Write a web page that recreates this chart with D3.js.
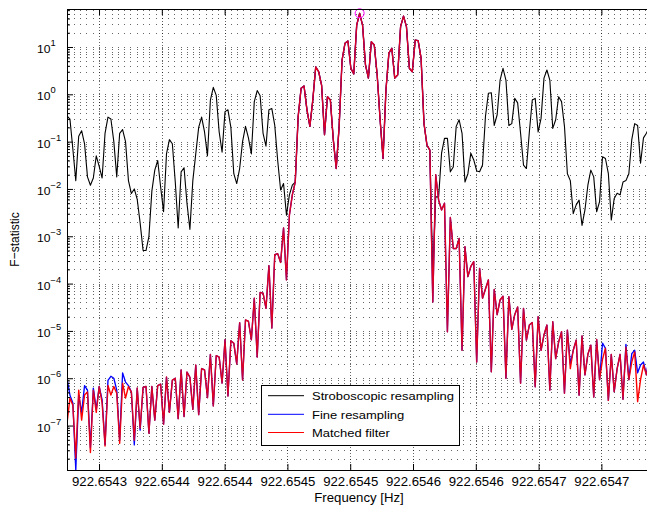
<!DOCTYPE html>
<html>
<head>
<meta charset="utf-8">
<script src="https://cdn.jsdelivr.net/npm/d3@7"></script>
<style>
  body { margin: 0; background: #fff; }
  svg { display: block; font-family: "Liberation Sans", Arial, Helvetica, sans-serif; }
</style>
</head>
<body>
<svg id="chart" width="647" height="508"></svg>
<script>
// frequency grid of the scan (first bin + bin width, Hz)
const freqStart = 922.6542745;
const freqStep = 2.33e-6;

// F-statistic, one value per frequency bin
const stroboscopic = [
  0.35, 0.3, 0.07, 0.015, 0.13, 0.17, 0.09, 0.018, 0.012, 0.017,
  0.05, 0.03, 0.017, 0.15, 0.33, 0.3, 0.1, 0.018, 0.15, 0.18,
  0.1, 0.015, 0.008, 0.01, 0.006, 0.0019, 0.0005, 0.0005, 0.001, 0.009,
  0.025, 0.04, 0.011, 0.0033, 0.055, 0.11, 0.09, 0.014, 0.0015, 0.023,
  0.028, 0.005, 0.0014, 0.015, 0.055, 0.2, 0.33, 0.16, 0.05, 0.75,
  1.4, 0.95, 0.16, 0.06, 0.43, 0.47, 0.2, 0.021, 0.013, 0.027,
  0.1, 0.21, 0.12, 0.055, 0.7, 1.2, 0.93, 0.15, 0.08, 0.47,
  0.5, 0.22, 0.04, 0.0095, 0.013, 0.0028, 0.0075, 0.012, 0.014, 0.34,
  1.34, 1.5, 0.47, 0.21, 0.76, 3.8, 3.0, 1.57, 0.14, 0.89,
  0.76, 0.11, 0.027, 0.21, 5.3, 12, 13.4, 3.55, 2.7, 29,
  51.5, 29, 4.2, 2.2, 12.9, 11, 2.56, 0.29, 0.044, 1.23,
  7.4, 9.4, 2.2, 2.56, 27, 45, 27, 3.55, 3.0, 14,
  13.6, 5.8, 0.24, 0.085, 0.066, 0.00015, 0.0068, 0.0068, 0.057, 0.117,
  0.117, 0.023, 0.029, 0.21, 0.29, 0.15, 0.014, 0.021, 0.057, 0.041,
  0.024, 0.023, 0.032, 0.34, 1.05, 1.08, 0.22, 0.37, 2.0, 3.55,
  2.0, 0.22, 0.24, 0.82, 0.66, 0.15, 0.032, 0.027, 0.16, 0.76,
  0.82, 0.16, 0.31, 2.2, 3.26, 2.0, 0.19, 0.29, 0.89, 0.7,
  0.21, 0.021, 0.015, 0.003, 0.0046, 0.0058, 0.0017, 0.0036, 0.012, 0.025,
  0.018, 0.0033, 0.0054, 0.048, 0.044, 0.021, 0.0022, 0.0063, 0.0081, 0.0075,
  0.014, 0.015, 0.021, 0.11, 0.24, 0.22, 0.035, 0.12, 0.15, 0.2
];

const fineResampling = [
  1e-6, 4.4e-7, 3e-7, 1.15e-8, 4.4e-7, 1.9e-7, 7e-7, 5.6e-7, 3.4e-8, 6.2e-7,
  2.2e-7, 6.7e-7, 3.5e-7, 3.9e-8, 9e-7, 1.1e-6, 1e-6, 5.6e-7, 4.9e-8, 1.3e-6,
  8.3e-7, 7e-7, 5.1e-7, 3.9e-8, 6.2e-7, 8e-8, 6.4e-7, 6.7e-7, 6.9e-8, 6.7e-7,
  1.3e-7, 7e-7, 7.5e-7, 1.07e-7, 1.06e-6, 1.9e-7, 9.1e-7, 1e-6, 1.4e-7, 1.5e-6,
  1.55e-7, 1.35e-6, 1.05e-6, 2.2e-7, 1.9e-6, 1.7e-7, 1.6e-6, 1.5e-6, 3.9e-7, 3.2e-6,
  2.6e-7, 3e-6, 2.8e-6, 7.9e-7, 6.5e-6, 4.2e-7, 6.2e-6, 5.5e-6, 2e-6, 1.5e-5,
  9.2e-7, 1.7e-5, 1.6e-5, 6.5e-6, 4.9e-5, 2.8e-6, 6.5e-5, 6.3e-5, 3e-5, 2.4e-4,
  1.15e-5, 4.1e-4, 4.3e-4, 2.8e-4, 1.5e-3, 1.2e-4, 2.8e-3, 7.5e-3, 0.014, 0.34,
  1.34, 1.5, 0.47, 0.21, 0.76, 3.8, 3.0, 1.57, 0.14, 0.89,
  0.76, 0.11, 0.027, 0.21, 5.3, 12, 13.4, 3.55, 2.7, 29,
  51.5, 29, 4.2, 2.2, 12.9, 11, 2.56, 0.29, 0.044, 1.23,
  7.4, 9.4, 2.2, 2.56, 27, 45, 27, 3.55, 3.0, 14,
  13.6, 5.8, 0.24, 0.085, 0.066, 4.1e-5, 0.02, 0.0058, 0.0036, 0.005,
  9.6e-6, 0.0025, 5.5e-4, 5.5e-4, 9e-4, 3.9e-6, 6e-4, 1.4e-4, 2.3e-4, 2.9e-4,
  2.2e-6, 2.1e-4, 4.9e-5, 7.7e-5, 1.2e-4, 1.37e-6, 7.5e-5, 2.2e-5, 4.5e-5, 5.4e-5,
  1e-6, 5.3e-5, 1.08e-5, 2.2e-5, 3.2e-5, 7.8e-7, 3e-5, 6.4e-6, 1.33e-5, 1.5e-5,
  6.6e-7, 2e-5, 3.9e-6, 8.2e-6, 1.33e-5, 5.6e-7, 1.56e-5, 2.6e-6, 5.8e-6, 9.6e-6,
  4.8e-7, 1.04e-5, 2e-6, 3.9e-6, 6.4e-6, 4.4e-7, 7.8e-6, 1.18e-6, 3.2e-6, 5e-6,
  4e-7, 6.6e-6, 9.3e-7, 5.5e-6, 4.3e-6, 3.4e-7, 3.2e-6, 5.2e-7, 1.6e-6, 3.2e-6,
  3.6e-7, 5.2e-6, 9.3e-7, 3.3e-6, 3.9e-6, 1.3e-6, 1.9e-6, 2.2e-6, 1.18e-6, 3e-6
];

const matchedFilter = [
  1.1e-7, 3.8e-7, 2.7e-7, 2.05e-8, 5.6e-7, 1.3e-7, 4.4e-7, 5.1e-7, 2.7e-8, 5.6e-7,
  1.9e-7, 6.7e-7, 3e-7, 3.7e-8, 7e-7, 4.4e-7, 6.7e-7, 4.8e-7, 4.2e-8, 7.9e-7,
  3.8e-7, 6.7e-7, 5.1e-7, 4.9e-8, 6.2e-7, 8.8e-8, 6.4e-7, 6.7e-7, 6.9e-8, 6.7e-7,
  1.3e-7, 7e-7, 7.5e-7, 1.07e-7, 1.06e-6, 1.9e-7, 9.1e-7, 1e-6, 1.4e-7, 1.5e-6,
  1.55e-7, 1.35e-6, 1.05e-6, 2.2e-7, 1.9e-6, 1.7e-7, 1.6e-6, 1.5e-6, 3.9e-7, 3.2e-6,
  2.6e-7, 3e-6, 2.8e-6, 7.9e-7, 6.5e-6, 4.2e-7, 6.2e-6, 5.5e-6, 2e-6, 1.5e-5,
  9.2e-7, 1.7e-5, 1.6e-5, 6.5e-6, 4.9e-5, 2.8e-6, 6.5e-5, 6.3e-5, 3e-5, 2.4e-4,
  1.15e-5, 4.1e-4, 4.3e-4, 2.8e-4, 1.5e-3, 1.2e-4, 2.8e-3, 7.5e-3, 0.014, 0.34,
  1.34, 1.5, 0.47, 0.21, 0.76, 3.8, 3.0, 1.57, 0.14, 0.89,
  0.76, 0.11, 0.027, 0.21, 5.3, 12, 13.4, 3.55, 2.7, 29,
  51.5, 29, 4.2, 2.2, 12.9, 11, 2.56, 0.29, 0.044, 1.23,
  7.4, 9.4, 2.2, 2.56, 27, 45, 27, 3.55, 3.0, 14,
  13.6, 5.8, 0.24, 0.085, 0.066, 4.1e-5, 0.02, 0.0058, 0.0036, 0.005,
  9.6e-6, 0.0025, 5.5e-4, 5.5e-4, 9e-4, 3.9e-6, 6e-4, 1.4e-4, 2.3e-4, 2.9e-4,
  2.2e-6, 2.1e-4, 4.9e-5, 7.7e-5, 1.2e-4, 1.37e-6, 7.5e-5, 2.2e-5, 4.5e-5, 5.4e-5,
  1e-6, 5.3e-5, 1.08e-5, 2.2e-5, 3.2e-5, 7.8e-7, 3e-5, 6.4e-6, 1.33e-5, 1.5e-5,
  6.6e-7, 2e-5, 3.9e-6, 8.2e-6, 1.33e-5, 5.6e-7, 1.56e-5, 2.6e-6, 5.8e-6, 9.6e-6,
  4.8e-7, 1.04e-5, 1.6e-6, 3.9e-6, 6.4e-6, 4.4e-7, 7.8e-6, 1.18e-6, 3.2e-6, 5e-6,
  4e-7, 6.6e-6, 9.3e-7, 2.5e-6, 4.3e-6, 3.4e-7, 3.2e-6, 5.2e-7, 1.6e-6, 3.2e-6,
  3.6e-7, 4.5e-6, 9.3e-7, 2.2e-6, 3.6e-6, 3.2e-7, 9.3e-7, 1.9e-6, 1.18e-6, 2.5e-6
];

const seriesNames = ['Stroboscopic resampling', 'Fine resampling', 'Matched filter'];

const xTickValues = [922.6543, 922.65435, 922.6544, 922.65445, 922.6545,
                     922.65455, 922.6546, 922.65465, 922.6547];
const xTickLabels = ['922.6543', '922.6544', '922.6544', '922.6545', '922.6545',
                     '922.6546', '922.6546', '922.6547', '922.6547'];
const yDecades = [1e-7, 1e-6, 1e-5, 1e-4, 1e-3, 1e-2, 1e-1, 1e0, 1e1];
const yExponents = ['\u22127', '\u22126', '\u22125', '\u22124', '\u22123', '\u22122', '\u22121', '0', '1'];

const freqs = d3.range(stroboscopic.length).map(i => freqStart + i * freqStep);

const svg = d3.select('#chart');
const pLeft = 67, pTop = 9, pRight = 651, pBottom = 470;
const stretch = 'scale(1.1,1)';

const x = d3.scaleLinear().domain([922.6542745, 922.6547395]).range([pLeft, pRight]);
const y = d3.scaleLog().domain([1.15e-8, 63.5]).range([pBottom, pTop]);

svg.append('defs').append('clipPath').attr('id', 'plot-clip')
  .append('rect').attr('x', pLeft).attr('y', pTop)
  .attr('width', pRight - pLeft).attr('height', pBottom - pTop);

// grid: every decade and its 2..9 subdivisions, MATLAB-style dotted
const gridVals = [];
[1e-8].concat(yDecades).forEach(d => {
  d3.range(1, 10).forEach(m => {
    const v = d * m;
    if (v > y.domain()[0] && v < y.domain()[1]) gridVals.push(v);
  });
});
const grid = svg.append('g').attr('stroke', '#000').attr('stroke-opacity', 0.6)
  .attr('shape-rendering', 'crispEdges');
grid.selectAll('line.h').data(gridVals).enter().append('line')
  .attr('class', 'h')
  .attr('x1', pLeft + 0.6).attr('x2', pRight)
  .attr('y1', d => Math.round(y(d)) + 0.5).attr('y2', d => Math.round(y(d)) + 0.5)
  .attr('stroke-dasharray', '1,5.28');
grid.selectAll('line.v').data(xTickValues).enter().append('line')
  .attr('class', 'v')
  .attr('x1', d => Math.round(x(d)) + 0.5).attr('x2', d => Math.round(x(d)) + 0.5)
  .attr('y1', pTop).attr('y2', pBottom)
  .attr('stroke-dasharray', '1,2');

// curves
const line = d3.line().x((d, i) => x(freqs[i])).y(d => y(d));
const plot = svg.append('g').attr('clip-path', 'url(#plot-clip)').attr('fill', 'none')
  .attr('stroke-linejoin', 'round');
plot.append('path').attr('d', line(stroboscopic)).attr('stroke', '#000').attr('stroke-width', 1.1);
plot.append('path').attr('d', line(fineResampling)).attr('stroke', '#0000ff').attr('stroke-width', 1.3);
plot.append('path').attr('d', line(matchedFilter)).attr('stroke', '#ff0000').attr('stroke-width', 1.4);
plot.append('path').attr('d', line(fineResampling)).attr('stroke', '#0000ff').attr('stroke-width', 0.7)
  .attr('stroke-opacity', 0.25);

// maximum marker
const iMax = d3.maxIndex(matchedFilter);
svg.append('circle')
  .attr('cx', x(freqs[iMax])).attr('cy', y(matchedFilter[iMax])).attr('r', 4.5)
  .attr('fill', 'none').attr('stroke', '#ff00ff').attr('stroke-width', 1);

// axes
const xAxis = svg.append('g').attr('transform', `translate(0,${pBottom})`)
  .call(d3.axisBottom(x).tickValues(xTickValues).tickFormat((d, i) => xTickLabels[i])
    .tickSizeInner(-6).tickSizeOuter(0));
xAxis.select('.domain').remove();
xAxis.selectAll('text')
  .attr('y', null).attr('dy', null)
  .attr('transform', `translate(0,15.5) ${stretch}`)
  .attr('font-size', 12).attr('fill', '#000')
  .attr('font-family', '"Liberation Sans", Arial, sans-serif');

const xAxisTop = svg.append('g').attr('transform', `translate(0,${pTop})`)
  .call(d3.axisTop(x).tickValues(xTickValues).tickFormat('').tickSizeInner(-6).tickSizeOuter(0));
xAxisTop.select('.domain').remove();

const yAxis = svg.append('g').attr('transform', `translate(${pLeft},0)`)
  .call(d3.axisLeft(y).tickValues(yDecades).tickFormat('').tickSizeInner(-6).tickSizeOuter(0));
yAxis.select('.domain').remove();
const yMinor = svg.append('g').attr('transform', `translate(${pLeft},0)`)
  .call(d3.axisLeft(y).tickValues(gridVals.filter(v => !yDecades.includes(v)))
    .tickFormat('').tickSizeInner(-3).tickSizeOuter(0));
yMinor.select('.domain').remove();

const yLabels = svg.append('g').attr('fill', '#000');
yLabels.selectAll('text').data(yDecades).enter().append('text')
  .attr('transform', d => `translate(37,${y(d) + 6}) ${stretch}`)
  .attr('font-size', 11)
  .each(function (d, i) {
    const t = d3.select(this);
    t.append('tspan').text('10');
    t.append('tspan').attr('font-size', 8.5).attr('dy', -7).text(yExponents[i]);
  });

// box
svg.append('rect').attr('x', pLeft + 0.5).attr('y', pTop + 0.5)
  .attr('width', pRight - pLeft).attr('height', pBottom - pTop)
  .attr('fill', 'none').attr('stroke', '#000').attr('stroke-width', 1)
  .attr('shape-rendering', 'crispEdges');

// axis titles
svg.append('text')
  .attr('transform', `translate(${(pLeft + pRight) / 2},502) ${stretch}`)
  .attr('text-anchor', 'middle').attr('font-size', 12)
  .text('Frequency [Hz]');
svg.append('text')
  .attr('transform', `translate(18.5,${(pTop + pBottom) / 2}) ${stretch} rotate(-90)`)
  .attr('text-anchor', 'middle').attr('font-size', 12)
  .text('F\u2212statistic');

// legend
const legend = svg.append('g');
legend.append('rect').attr('x', 261.5).attr('y', 385.5).attr('width', 198).attr('height', 60)
  .attr('fill', '#fff').attr('stroke', '#000').attr('shape-rendering', 'crispEdges');
const legendColors = ['#000', '#0000ff', '#ff0000'];
const legendRows = [395.7, 414.3, 432.5];
seriesNames.forEach((name, i) => {
  legend.append('line').attr('x1', 268).attr('x2', 304)
    .attr('y1', legendRows[i]).attr('y2', legendRows[i])
    .attr('stroke', legendColors[i]).attr('stroke-width', 1);
  legend.append('text')
    .attr('transform', `translate(312,${legendRows[i] + 4.5}) ${stretch}`)
    .attr('font-size', 11.8).text(name);
});
</script>
</body>
</html>
